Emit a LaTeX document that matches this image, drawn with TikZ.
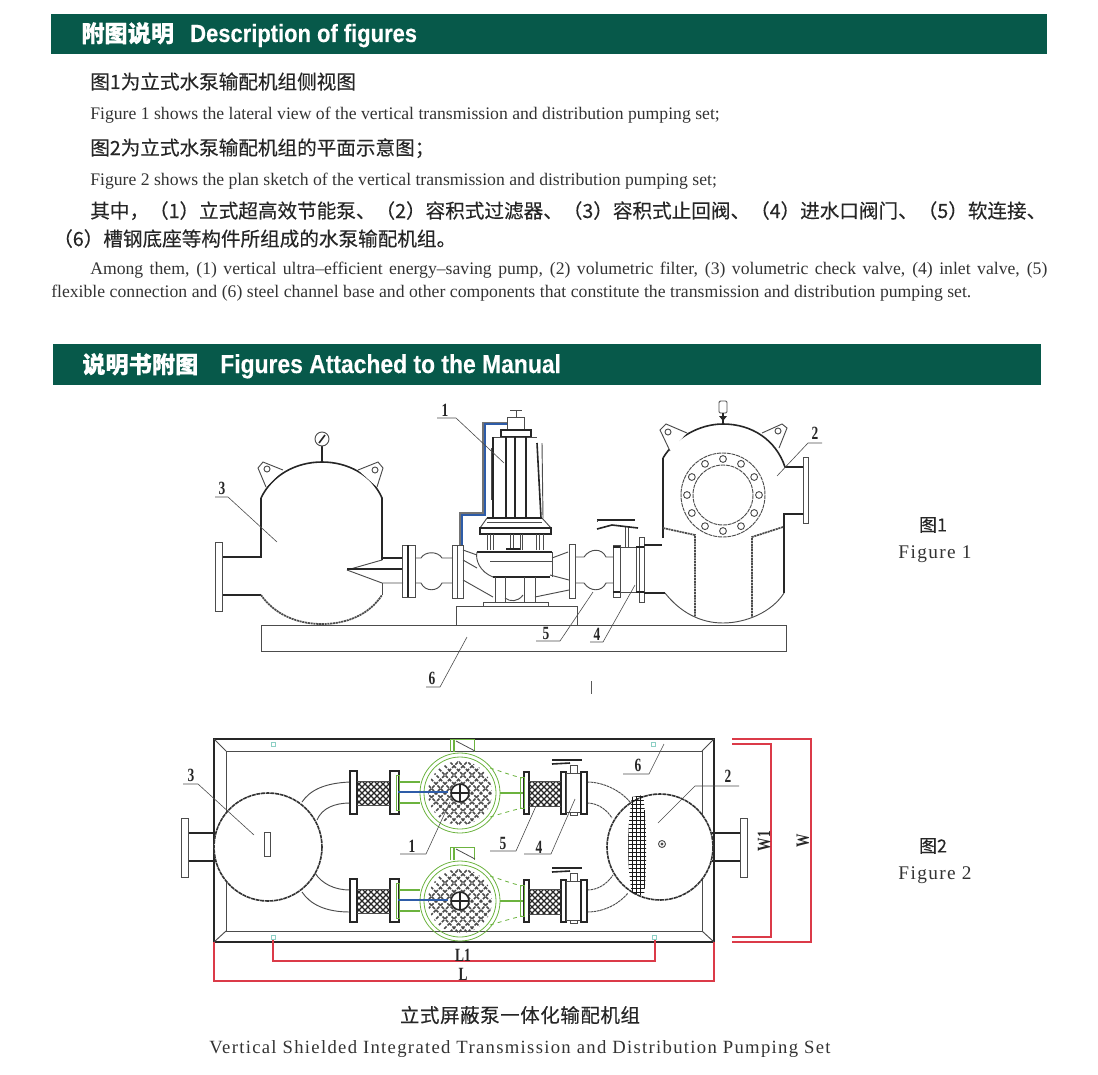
\documentclass[tikz,border=0pt]{standalone}
\usepackage{fontspec}
\usetikzlibrary{calc}
\setmainfont{Liberation Serif}
\setsansfont{Liberation Sans}
\newfontfamily\cjk[FakeBold=0.25]{Noto Sans CJK SC}
\newfontfamily\bandfont[FakeStretch=0.88,FakeBold=0.3]{Liberation Sans}
\newfontfamily\tagfont[FakeStretch=0.72]{Liberation Serif}
\newfontfamily\wideserif[LetterSpace=7]{Liberation Serif}
\newfontfamily\widecjk[FakeBold=0.25,LetterSpace=3]{Noto Sans CJK SC}
\definecolor{bandgreen}{HTML}{07594A}
\definecolor{pumpgreen}{HTML}{6CB33F}
\definecolor{dimred}{HTML}{DB3A48}
\definecolor{pipeblue}{HTML}{2E5CA8}
\definecolor{tagteal}{HTML}{8CCFC4}
\tikzset{
  bandbox/.style={fill=bandgreen,draw=none},
  bandcn/.style={anchor=base west,inner sep=0pt,text=white,font=\fontsize{17.4}{20}\selectfont\cjk\bfseries},
  banden/.style={anchor=base west,inner sep=0pt,text=white,font=\fontsize{18.7}{20}\selectfont\bandfont\bfseries},
  cnline/.style={anchor=base west,inner sep=0pt,text=black!85,font=\fontsize{14.7}{17}\selectfont\cjk},
  enline/.style={anchor=base west,inner sep=0pt,text=black!80,font=\fontsize{13.25}{14}\selectfont},
  figcn/.style={anchor=center,inner sep=0pt,text=black!85,font=\fontsize{13.5}{15}\selectfont\cjk},
  figen/.style={anchor=center,inner sep=0pt,text=black!80,font=\fontsize{14.5}{15}\selectfont\wideserif},
  partlabel/.style={inner sep=0pt,font=\fontsize{14}{15}\selectfont\tagfont\bfseries,text=black!85},
  part/.style={line width=0.7pt,draw=black!70},
  heavy/.style={line width=1.2pt,draw=black!85},
  beaded/.style={line width=1.3pt,draw=black!70,dash pattern=on 1.6pt off 0.5pt},
  rimline/.style={line width=1.2pt,draw=black!80,dash pattern=on 3pt off 0.5pt},
  thin/.style={line width=0.45pt,draw=black!65},
  leader/.style={line width=0.45pt,draw=black!70},
  dim/.style={line width=0.8pt,draw=dimred},
  green line/.style={line width=0.6pt,draw=pumpgreen},
  green thick/.style={line width=1.5pt,draw=pumpgreen}
}
\begin{document}
\begin{tikzpicture}[x=0.75pt,y=-0.75pt]
\useasboundingbox (0,0) rectangle (1098,1074);

% Drawing the two title bands
\fill [bandbox] (51,14) rectangle (1047,54);
\fill [bandbox] (53,344) rectangle (1041,385);
\node [bandcn] (headA) at (81,42) {附图说明};
\node [banden] (headAen) at (190,42) {Description of figures};
\node [bandcn] (headB) at (82,373) {说明书附图};
\node [banden,font=\fontsize{19.5}{20}\selectfont\bandfont\bfseries] (headBen) at (220,373) {Figures Attached to the Manual};

% Description lines
\node [cnline] (cnA) at (90,89) {图1为立式水泵输配机组侧视图};
\node [enline] (enA) at (90,119) {Figure 1 shows the lateral view of the vertical transmission and distribution pumping set;};
\node [cnline] (cnB) at (90,155) {图2为立式水泵输配机组的平面示意图；};
\node [enline] (enB) at (90,185) {Figure 2 shows the plan sketch of the vertical transmission and distribution pumping set;};
\node [cnline] (cnC) at (90,218) {其中，（1）立式超高效节能泵、（2）容积式过滤器、（3）容积式止回阀、（4）进水口阀门、（5）软连接、};
\node [cnline] (cnD) at (53,246) {（6）槽钢底座等构件所组成的水泵输配机组。};
\node [enline] (enC) at (90,274) {\makebox[717.75pt][s]{Among them, (1) vertical ultra–efficient energy–saving pump, (2) volumetric filter, (3) volumetric check valve, (4) inlet valve, (5)}};
\node [enline] (enD) at (51,297) {\makebox[690pt][s]{flexible connection and (6) steel channel base and other components that constitute the transmission and distribution pumping set.}};

%%%%% Figure 1 %%%%%
% Drawing platform and pedestal
\draw [part] (261,625) rectangle (786,651);
\draw [part] (456,625) -- (456,606) -- (577,606) -- (577,625);

% Drawing tank 3
\draw [heavy] (222,557) -- (261,557) -- (261,498);
\draw [heavy] (222,595) -- (261,595);
\draw [heavy] (261,498) .. controls (272,475) and (296,462) .. (322,462) .. controls (348,462) and (372,475) .. (382,498) -- (382,560);
\draw [beaded] (261,595) .. controls (275,615) and (298,624) .. (322,624) .. controls (346,624) and (369,615) .. (382,595);
\draw [part] (382,595) -- (382,583);
\draw [part] (215,542) rectangle (222,611);
\draw [heavy] (382,558) -- (403,558);
\draw [part] (347,570) -- (382,560);
\draw [part] (347,570) -- (382,583) -- (403,583);
\draw [heavy] (347,569) -- (403,569);

% Drawing lugs and gauge of tank 3
\draw [part,fill=white] (266,487) -- (258,468) -- (263,462) -- (283,470);
\draw [part] (267,469) circle (3);
\draw [part,fill=white] (377,487) -- (383,468) -- (378,462) -- (358,470);
\draw [part] (375,470) circle (3);
\draw [heavy] (322,446) -- (322,462);
\draw [part,fill=white] (322,439) circle (7);
\draw [heavy] (319,443) -- (325,435);

% Drawing inlet line between tank 3 and pump
\draw [part] (402,545) rectangle (415,597);
\draw [heavy] (408,545) -- (408,597);
\draw [part] (415,558) -- (421,558) .. controls (425,551) and (438,551) .. (442,558) -- (452,558);
\draw [part] (415,583) -- (421,583) .. controls (425,592) and (438,592) .. (442,583) -- (452,583);
\draw [part] (452,545) rectangle (463,598);
\draw [part] (457,545) -- (457,598);
\draw [part] (463,550) -- (477,555);
\draw [part] (463,560) -- (477,568);
\draw [part] (463,580) -- (493,597);

% Drawing pump 1
\draw [part] (510,410) -- (522,410);
\draw [part] (516,410) -- (516,417);
\draw [part] (507,417) rectangle (524,429);
\draw [heavy] (501,430) rectangle (531,437);
\draw [part] (493,437) -- (537,437);
\draw [heavy] (493,437) -- (493,518);
\draw [heavy] (506,437) -- (506,518);
\draw [heavy] (515,437) -- (515,518);
\draw [heavy] (526,437) -- (526,518);
\draw [heavy] (537,443) -- (541,518);
\draw [part] (542,443) -- (543,518);
\draw [part] (491,448) -- (491,500);
\draw [heavy] (487,518) -- (542,518);
\draw [part] (487,522) -- (542,522);
\draw [part] (487,518) -- (480,528) -- (551,528) -- (542,518);
\draw [heavy] (480,528) rectangle (551,534);
\foreach \sx in {487,490,493,510,513,520,522,536,539,543}{
  \draw [part] (\sx,534) -- (\sx,550);
}
\draw [heavy] (506,549) -- (520,549);
\draw [heavy] (477,552) -- (552,552);
\draw [part] (490,561) -- (552,561);
\draw [part] (477,552) .. controls (475,560) and (480,572) .. (493,577);
\draw [heavy] (493,577) -- (550,577);
\draw [part] (552,552) -- (552,577);
\foreach \sx in {495,505,524,535}{
  \draw [part] (\sx,577) -- (\sx,602);
}
\draw [part] (505,598) .. controls (510,602) and (518,602) .. (523,595);
\draw [part] (483,606) -- (483,602) -- (548,602) -- (548,606);

% Drawing blue tube over the pump
\draw [line width=0.9pt,draw=black!55] (460,545) -- (460,513) -- (483,513) -- (483,423) -- (507,423);
\draw [line width=0.9pt,draw=pipeblue] (462,545) -- (462,515) -- (485,515) -- (485,424) -- (507,424);

% Drawing outlet line and valve 4
\draw [part] (552,558) -- (568,552);
\draw [part] (550,575) -- (569,580);
\draw [part] (535,597) -- (569,590);
\draw [part] (569,544) rectangle (575,598);
\draw [part] (575,557) -- (584,557) .. controls (590,548) and (602,548) .. (606,557) -- (613,557);
\draw [part] (575,583) -- (584,583) .. controls (590,592) and (602,592) .. (606,583) -- (613,583);
\draw [part] (613,545) rectangle (620,597);
\draw [heavy] (613,547) -- (620,547);
\draw [heavy] (613,592) -- (620,592);
\draw [part] (620,547) rectangle (636,592);
\draw [part] (639,537) rectangle (644,602);
\draw [heavy] (636,547) -- (644,547);
\draw [heavy] (636,592) -- (644,592);
\draw [part] (625,527) -- (625,547);
\draw [part] (628,527) -- (628,547);
\draw [heavy] (597,520) -- (635,520);
\draw [heavy] (597,529) -- (612,525) -- (638,528);
\draw [part] (597,520) -- (597,522);
\draw [heavy] (644,545) -- (662,545);
\draw [heavy] (644,593) -- (665,593);

% Drawing tank 2
\draw [heavy] (663,538) -- (663,458);
\draw [heavy] (663,458) .. controls (675,438) and (699,424) .. (723,424) .. controls (752,424) and (776,440) .. (785,467) -- (803,467);
\draw [part] (803,457) rectangle (808,523);
\draw [heavy] (803,514) -- (784,514) -- (784,593);
\draw [part] (665,593) .. controls (680,612) and (700,623) .. (723,623) .. controls (746,623) and (772,612) .. (784,593);
\draw [part,dash pattern=on 3pt off 0.6pt] (723,495) circle (42);
\draw [part,dash pattern=on 3pt off 0.6pt] (723,495) circle (30);
\foreach \ang in {0,30,...,330}{
  \draw [part,fill=white] ($(723,495)+(\ang:36)$) circle (3.4);
}
\draw [beaded] (663,528) -- (695,535) -- (695,617);
\draw [beaded] (783,527) -- (752,537) -- (752,617);

% Drawing lugs and filter top of tank 2
\draw [part,fill=white] (670,451) -- (660,430) -- (666,424) -- (687,433);
\draw [part] (668,432) circle (3);
\draw [part,fill=white] (779,448) -- (787,428) -- (782,424) -- (762,433);
\draw [part] (778,431) circle (3);
\draw [part,rounded corners=1pt] (719,401) rectangle (727,413);
\draw [heavy] (723,413) -- (723,424);
\fill [black!85] (719,416) -- (727,416) -- (723,421) -- cycle;

% Marking part labels of figure 1
\foreach \tag/\lx/\ly/\ua/\ub/\uy/\ex/\ey in {
  1/445/410/437/456/418/504/463, 3/222/488/215/228/497/277/542,
  6/432/678/426/440/687/467/637, 5/546/633/536/560/641/593/592,
  4/597/634/590/603/642/635/585, 2/815/433/822/808/443/777/476}{
  \node [partlabel] (figAtag\tag) at (\lx,\ly) {\tag};
  \coordinate (figAu\tag) at (\ua,\uy);
  \coordinate (figAv\tag) at (\ub,\uy);
  \coordinate (figAe\tag) at (\ex,\ey);
  \draw [leader] (figAu\tag) -- (figAv\tag) -- (figAe\tag);
}
\draw [thin] (591,681) -- (591,694);

% Marking figure captions
\node [figcn] (capA) at (933,525) {图1};
\node [figen] (capAen) at (935,554) {Figure 1};
\node [figcn] (capB) at (933,846) {图2};
\node [figen] (capBen) at (935,875) {Figure 2};

%%%%% Figure 2 %%%%%
% Drawing frame
\draw [heavy] (214,739) rectangle (714,942);
\draw [part] (226,751) rectangle (702,931);
\draw [part] (214,739) -- (226,751);
\draw [part] (714,739) -- (702,751);
\draw [part] (214,942) -- (226,931);
\draw [part] (714,942) -- (702,931);

% Marking small tags
\foreach \tagx/\tagy in {273/744,653/744,273/937,654/937}{
  \draw [line width=0.4pt,draw=tagteal] (\tagx-2,\tagy-2) rectangle (\tagx+2,\tagy+2);
}

% Drawing red dimensions
\draw [dim] (273,940) -- (273,961) -- (655,961) -- (655,940);
\draw [dim] (214,942) -- (214,981) -- (714,981) -- (714,942);
\draw [dim] (732,744) -- (771,744) -- (771,937) -- (732,937);
\draw [dim] (732,739) -- (811,739) -- (811,942) -- (732,942);
\node [partlabel] (dimLa) at (463,955) {L1};
\node [partlabel] (dimLb) at (463,974) {L};
\node [partlabel,rotate=90] (dimWa) at (764,841) {W1};
\node [partlabel,rotate=90] (dimWb) at (803,841) {W};

% Drawing tank 3 in plan
\draw [heavy] (188,833) -- (217,833);
\draw [heavy] (188,861) -- (217,861);
\draw [part] (181,818) rectangle (188,877);
\draw [rimline,fill=white] (268,847) circle (54);
\draw [part] (264,832) rectangle (270,856);

% Drawing tank 2 in plan
\draw [heavy] (712,833) -- (740,833);
\draw [heavy] (712,861) -- (740,861);
\draw [part] (740,818) rectangle (747,877);
\draw [rimline,fill=white] (660,847) circle (53);
\begin{scope}
  \clip (632,797) -- (643,795) .. controls (647,820) and (647,870) .. (644,896) -- (632,893) .. controls (627,870) and (627,825) .. cycle;
  \foreach \gx in {624,628,...,652}{
    \draw [line width=0.7pt,draw=black!90] (\gx,790) -- (\gx,905);
  }
  \foreach \gy in {792,796,...,904}{
    \draw [line width=0.7pt,draw=black!90] (615,\gy) -- (655,\gy);
  }
\end{scope}
\draw [part] (662,844) circle (3.5);
\fill [black!70] (662,844) circle (1.6);

% Drawing curved pipes
\draw [part] (302,802) .. controls (310,790) and (325,783) .. (350,782);
\draw [part] (317,820) .. controls (322,808) and (335,803) .. (350,803);
\draw [part] (302,892) .. controls (310,904) and (325,912) .. (350,912);
\draw [part] (315,873) .. controls (322,884) and (335,890) .. (350,890);
\draw [part,dash pattern=on 2pt off 0.5pt] (587,782) .. controls (605,782) and (622,792) .. (630,802);
\draw [part,dash pattern=on 2pt off 0.5pt] (587,803) .. controls (598,803) and (607,810) .. (612,818);
\draw [part,dash pattern=on 2pt off 0.5pt] (587,890) .. controls (598,890) and (607,884) .. (613,875);
\draw [part,dash pattern=on 2pt off 0.5pt] (587,912) .. controls (605,912) and (620,903) .. (628,893);

% Drawing the two pump rows
\foreach \cy in {793,901}{
\begin{scope}[shift={(0,\cy)}]
  % connectors of left mesh
  \draw [heavy,fill=white] (350,-22) rectangle (357,21);
  \draw [heavy,fill=white] (390,-22) rectangle (399,21);
  \begin{scope}
    \clip (357,-12) rectangle (390,12);
    \foreach \mx in {330,336,...,400}{
      \draw [line width=1pt,draw=black!85] (\mx,-14) -- (\mx+28,14);
      \draw [line width=1pt,draw=black!85] (\mx+28,-14) -- (\mx,14);
    }
  \end{scope}
  \draw [part] (357,-12) -- (390,-12);
  \draw [part] (357,12) -- (390,12);
  % connectors of right mesh
  \draw [heavy,line width=0.9pt,fill=white] (524,-21) rectangle (529,21);
  \draw [heavy,line width=0.9pt,fill=white] (561,-21) rectangle (566,21);
  \begin{scope}
    \clip (529,-12) rectangle (561,13);
    \foreach \mx in {500,506,...,570}{
      \draw [line width=1pt,draw=black!85] (\mx,-14) -- (\mx+28,14);
      \draw [line width=1pt,draw=black!85] (\mx+28,-14) -- (\mx,14);
    }
  \end{scope}
  \draw [part] (529,-12) -- (561,-12);
  \draw [part] (529,13) -- (561,13);
  % valve
  \draw [part,fill=white] (566,-20) rectangle (581,19);
  \draw [heavy,line width=0.9pt,fill=white] (581,-21) rectangle (587,21);
  \draw [part] (570,-28) rectangle (577,-20);
  \draw [heavy] (552,-33) -- (582,-33);
  \draw [heavy] (552,-29) -- (570,-30);
  \draw [part] (570,19) -- (570,22) -- (577,22) -- (577,19);
  % pump body
  \draw [green line] (460,0) circle (40);
  \draw [green line] (460,0) circle (36);
  \begin{scope}
    \clip (460,0) circle (32);
    \foreach \mx in {393,402,...,528}{
      \draw [line width=1.1pt,draw=black!70,dash pattern=on 2.5pt off 1pt] (\mx,-34) -- (\mx+68,34);
      \draw [line width=1.1pt,draw=black!70,dash pattern=on 2.5pt off 1pt] (\mx+68,-34) -- (\mx,34);
    }
  \end{scope}
  \draw [heavy,fill=white] (460,0) circle (9);
  \draw [heavy] (451,0) -- (469,0);
  \draw [heavy] (460,-9) -- (460,9);
  % green side lines
  \draw [green thick] (399,-11) -- (420,-11);
  \draw [green thick] (399,10) -- (420,10);
  \draw [green line] (396,-18) rectangle (399,17);
  \draw [green thick] (500,0) -- (523,0);
  \draw [green line,dashed] (490,-25) .. controls (500,-22) and (510,-18) .. (522,-15);
  \draw [green line,dashed] (490,24) .. controls (500,21) and (510,18) .. (522,15);
  \draw [green line] (520,-16) rectangle (524,15);
  % tab on top
  \draw [green line] (450,-41) -- (450,-54) -- (474,-54) -- (474,-41);
  \draw [green thick] (454,-41) -- (454,-53);
  \draw [line width=0.6pt,draw=black!70] (456,-52) -- (475,-42);
  % blue tube
  \draw [line width=0.9pt,draw=pipeblue] (398,-1) -- (448,-1);
\end{scope}
}

% Marking part labels of figure 2
\foreach \tag/\lx/\ly/\ua/\ub/\uy/\ex/\ey in {
  3/191/775/183/198/784/254/835, 1/412/846/400/426/854/450/802,
  5/503/843/490/516/851/536/806, 4/539/847/524/551/854/575/799,
  6/638/765/623/649/774/664/744, 2/728/776/739/695/786/658/823}{
  \node [partlabel] (figBtag\tag) at (\lx,\ly) {\tag};
  \coordinate (figBu\tag) at (\ua,\uy);
  \coordinate (figBv\tag) at (\ub,\uy);
  \coordinate (figBe\tag) at (\ex,\ey);
  \draw [leader] (figBu\tag) -- (figBv\tag) -- (figBe\tag);
}

% Marking the main caption
\node [figcn,font=\fontsize{14.6}{16}\selectfont\widecjk] (capMain) at (520,1015) {立式屏蔽泵一体化输配机组};
\node [figen,font=\fontsize{14}{16}\selectfont\wideserif] (capMainEn) at (520,1049) {Vertical Shielded Integrated Transmission and Distribution Pumping Set};
\end{tikzpicture}
\end{document}
